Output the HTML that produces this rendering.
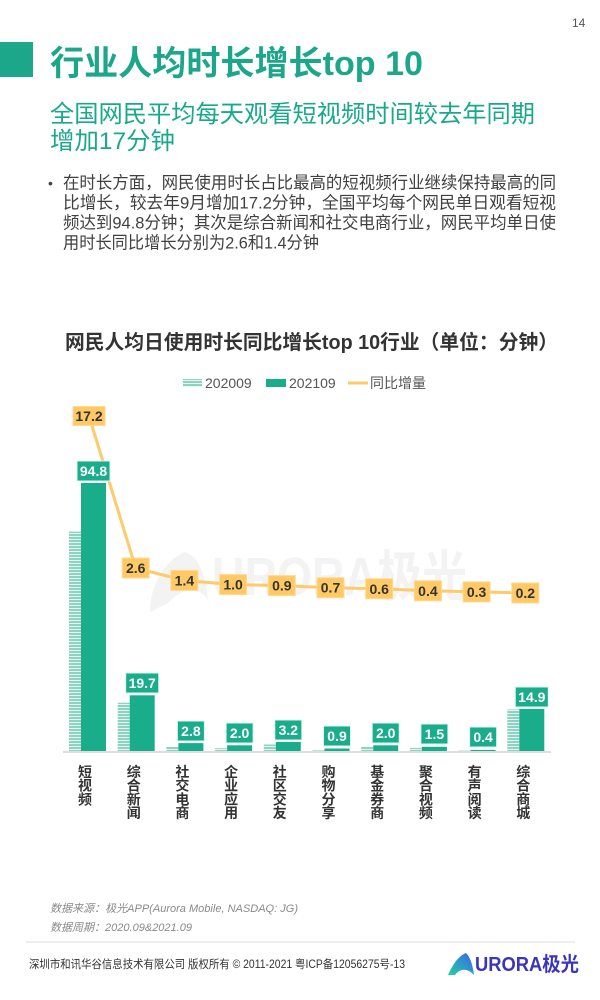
<!DOCTYPE html>
<html><head><meta charset="utf-8">
<style>
html,body{margin:0;padding:0;background:#fff;}
svg{display:block;}
text{font-family:"Liberation Sans","Noto Sans CJK SC",sans-serif;}
</style></head>
<body>
<svg width="600" height="1000" viewBox="0 0 600 1000" xmlns="http://www.w3.org/2000/svg">
<defs>
<pattern id="h" width="4" height="3" patternUnits="userSpaceOnUse">
<rect width="4" height="3" fill="#e6f5f1"/><rect width="4" height="2" fill="#8cd3c2"/>
</pattern>
<linearGradient id="lg" x1="0" y1="1" x2="1" y2="0">
<stop offset="0" stop-color="#22d3a0"/><stop offset="1" stop-color="#3a5ff0"/>
</linearGradient>
</defs>

<!-- header -->
<text x="572" y="27" font-size="12" fill="#555">14</text>
<rect x="0" y="42" width="33" height="35" fill="#1ca68a"/>
<text x="50" y="75" font-size="34" font-weight="bold" fill="#1ca68a" textLength="373" lengthAdjust="spacingAndGlyphs">行业人均时长增长top 10</text>
<text x="50" y="122" font-size="24" fill="#1aa88b" textLength="485" lengthAdjust="spacingAndGlyphs">全国网民平均每天观看短视频时间较去年同期</text>
<text x="50" y="149" font-size="24" fill="#1aa88b" textLength="125" lengthAdjust="spacingAndGlyphs">增加17分钟</text>

<text x="48" y="188" font-size="14" fill="#444">•</text>
<g font-size="17" fill="#404040">
<text x="63" y="188.5" textLength="493" lengthAdjust="spacingAndGlyphs">在时长方面，网民使用时长占比最高的短视频行业继续保持最高的同</text>
<text x="63" y="208.5" textLength="493" lengthAdjust="spacingAndGlyphs">比增长，较去年9月增加17.2分钟，全国平均每个网民单日观看短视</text>
<text x="63" y="228.5" textLength="493" lengthAdjust="spacingAndGlyphs">频达到94.8分钟；其次是综合新闻和社交电商行业，网民平均单日使</text>
<text x="63" y="248.5" textLength="256" lengthAdjust="spacingAndGlyphs">用时长同比增长分别为2.6和1.4分钟</text>
</g>

<!-- chart title -->
<text x="65" y="349" font-size="20" font-weight="bold" fill="#333" textLength="493" lengthAdjust="spacingAndGlyphs">网民人均日使用时长同比增长top 10行业（单位：分钟）</text>

<!-- legend -->
<rect x="183" y="379" width="19" height="8" fill="url(#h)"/>
<text x="205" y="388" font-size="14" fill="#555">202009</text>
<rect x="266" y="379" width="20" height="8" fill="#1aad8c"/>
<text x="289" y="388" font-size="14" fill="#555">202109</text>
<line x1="348" y1="383" x2="368" y2="383" stroke="#ffca6a" stroke-width="3"/>
<text x="370" y="388" font-size="14" fill="#555">同比增量</text>

<!-- watermark -->
<path d="M150 612 C150 585 165 560 185 552 C198 556 206 575 208 600 C198 585 182 588 168 603 Z" fill="#f3f3f3"/>
<text x="212" y="595" font-size="54" font-weight="bold" fill="#f3f3f3" textLength="255" lengthAdjust="spacingAndGlyphs">URORA极光</text>

<!-- bars 2020 (hatched) -->
<g fill="url(#h)">
<rect x="69" y="531.6" width="12" height="219.4"/>
<rect x="117.7" y="702.7" width="12" height="48.3"/>
<rect x="166.4" y="747" width="12" height="4"/>
<rect x="215.1" y="748.2" width="12" height="2.8"/>
<rect x="263.8" y="744.5" width="12" height="6.5"/>
<rect x="312.5" y="750.4" width="12" height="0.6"/>
<rect x="361.2" y="747" width="12" height="4"/>
<rect x="409.9" y="747.9" width="12" height="3.1"/>
<rect x="458.6" y="750.6" width="12" height="0.4"/>
<rect x="507.3" y="709.4" width="12" height="41.6"/>
</g>
<!-- bars 2021 -->
<g fill="#1aad8c">
<rect x="81" y="483" width="25" height="268"/>
<rect x="129.7" y="695.3" width="25" height="55.7"/>
<rect x="178.4" y="743.1" width="25" height="7.9"/>
<rect x="227.1" y="745.3" width="25" height="5.7"/>
<rect x="275.8" y="742" width="25" height="9"/>
<rect x="324.5" y="748.5" width="25" height="2.5"/>
<rect x="373.2" y="745.3" width="25" height="5.7"/>
<rect x="421.9" y="746.8" width="25" height="4.2"/>
<rect x="470.6" y="749.9" width="25" height="1.1"/>
<rect x="519.3" y="708.9" width="25" height="42.1"/>
</g>
<rect x="63" y="751" width="488" height="2" fill="#dedede"/>

<!-- line -->
<polyline points="89,416 135.7,568 184.4,580.4 233.1,584.6 281.8,585.6 330.5,587.7 379.2,588.8 427.9,590.8 476.6,591.9 525.3,593" fill="none" stroke="#ffca6a" stroke-width="3" stroke-linejoin="round"/>

<!-- bar value labels -->
<g fill="#1aad8c" stroke="#dff3ee" stroke-width="1">
<rect x="77" y="461" width="33" height="20"/>
<rect x="125.7" y="673" width="33" height="20"/>
<rect x="177.4" y="721" width="27" height="20"/>
<rect x="226.1" y="723" width="27" height="20"/>
<rect x="274.8" y="720" width="27" height="20"/>
<rect x="323.5" y="726" width="27" height="20"/>
<rect x="372.2" y="723" width="27" height="20"/>
<rect x="420.9" y="724" width="27" height="20"/>
<rect x="469.6" y="727" width="27" height="20"/>
<rect x="515.3" y="687" width="33" height="20"/>
</g>
<g fill="#fff" font-size="14" font-weight="bold" text-anchor="middle">
<text x="93.5" y="476">94.8</text>
<text x="142.2" y="688">19.7</text>
<text x="190.9" y="736">2.8</text>
<text x="239.6" y="738">2.0</text>
<text x="288.3" y="735">3.2</text>
<text x="337" y="741">0.9</text>
<text x="385.7" y="738">2.0</text>
<text x="434.4" y="739">1.5</text>
<text x="483.1" y="742">0.4</text>
<text x="531.8" y="702">14.9</text>
</g>

<!-- line value labels -->
<g fill="#ffc966" stroke="#ffd993" stroke-width="1">
<rect x="73" y="406.5" width="32" height="19"/>
<rect x="122.2" y="558" width="27" height="20"/>
<rect x="170.9" y="570.4" width="27" height="20"/>
<rect x="219.6" y="574.6" width="27" height="20"/>
<rect x="268.3" y="575.6" width="27" height="20"/>
<rect x="317" y="577.7" width="27" height="20"/>
<rect x="365.7" y="578.8" width="27" height="20"/>
<rect x="414.4" y="580.8" width="27" height="20"/>
<rect x="463.1" y="581.9" width="27" height="20"/>
<rect x="511.8" y="583" width="27" height="20"/>
</g>
<g fill="#333" font-size="14" font-weight="bold" text-anchor="middle">
<text x="89" y="421">17.2</text>
<text x="135.7" y="573">2.6</text>
<text x="184.4" y="585.4">1.4</text>
<text x="233.1" y="589.6">1.0</text>
<text x="281.8" y="590.6">0.9</text>
<text x="330.5" y="592.7">0.7</text>
<text x="379.2" y="593.8">0.6</text>
<text x="427.9" y="595.8">0.4</text>
<text x="476.6" y="596.9">0.3</text>
<text x="525.3" y="598">0.2</text>
</g>

<!-- category labels -->
<g fill="#333" font-size="14" font-weight="bold" text-anchor="middle">
<text x="85" y="777">短</text><text x="85" y="790.7">视</text><text x="85" y="804.4">频</text>
<text x="133.7" y="777">综</text><text x="133.7" y="790.7">合</text><text x="133.7" y="804.4">新</text><text x="133.7" y="818.1">闻</text>
<text x="182.4" y="777">社</text><text x="182.4" y="790.7">交</text><text x="182.4" y="804.4">电</text><text x="182.4" y="818.1">商</text>
<text x="231.1" y="777">企</text><text x="231.1" y="790.7">业</text><text x="231.1" y="804.4">应</text><text x="231.1" y="818.1">用</text>
<text x="279.8" y="777">社</text><text x="279.8" y="790.7">区</text><text x="279.8" y="804.4">交</text><text x="279.8" y="818.1">友</text>
<text x="328.5" y="777">购</text><text x="328.5" y="790.7">物</text><text x="328.5" y="804.4">分</text><text x="328.5" y="818.1">享</text>
<text x="377.2" y="777">基</text><text x="377.2" y="790.7">金</text><text x="377.2" y="804.4">券</text><text x="377.2" y="818.1">商</text>
<text x="425.9" y="777">聚</text><text x="425.9" y="790.7">合</text><text x="425.9" y="804.4">视</text><text x="425.9" y="818.1">频</text>
<text x="474.6" y="777">有</text><text x="474.6" y="790.7">声</text><text x="474.6" y="804.4">阅</text><text x="474.6" y="818.1">读</text>
<text x="523.3" y="777">综</text><text x="523.3" y="790.7">合</text><text x="523.3" y="804.4">商</text><text x="523.3" y="818.1">城</text>
</g>

<!-- footer -->
<g font-size="11" font-style="italic" fill="#8a8a8a">
<text x="50" y="912" textLength="248" lengthAdjust="spacingAndGlyphs">数据来源：极光APP(Aurora Mobile, NASDAQ: JG)</text>
<text x="50" y="931" textLength="142" lengthAdjust="spacingAndGlyphs">数据周期：2020.09&amp;2021.09</text>
</g>
<rect x="26" y="941.5" width="549" height="1" fill="#dcdcdc"/>
<text x="29" y="968" font-size="11.5" fill="#333" textLength="376" lengthAdjust="spacingAndGlyphs">深圳市和讯华谷信息技术有限公司 版权所有 © 2011-2021 粤ICP备12056275号-13</text>
<path d="M448 975 C452 966 458 956 466 953 C471 958 473 967 474 975 C468 968 460 968 455 975 Z" fill="url(#lg)"/>
<text x="475" y="971" font-size="20" font-weight="bold" fill="#3b35b8" textLength="104" lengthAdjust="spacingAndGlyphs">URORA极光</text>
</svg>
</body></html>
